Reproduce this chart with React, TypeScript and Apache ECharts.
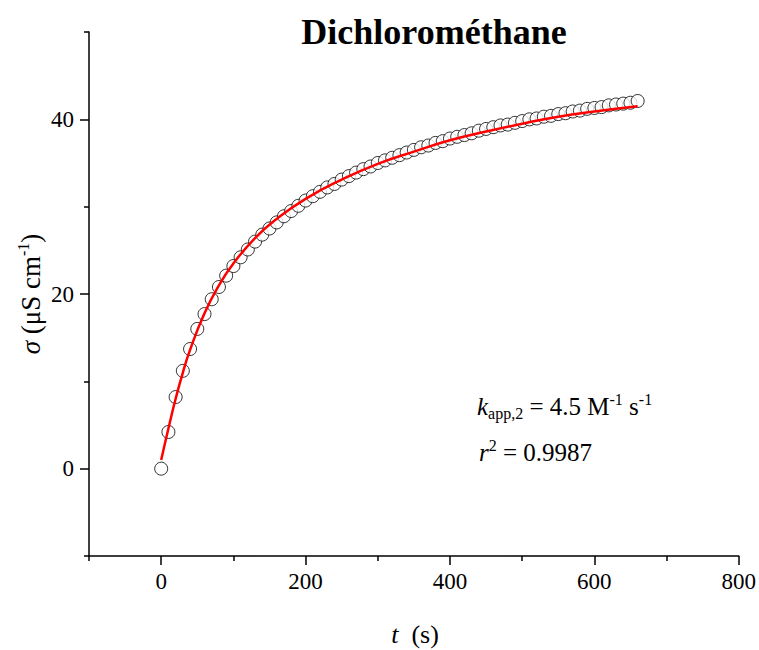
import React, { useEffect, useRef } from "react";
import * as echarts from "echarts";

// Measured data: time (s) and conductivity (µS cm-1)
const timeS: number[] = [
  0, 10, 20, 30, 40, 50, 60, 70, 80, 90, 100, 110, 120, 130, 140, 150, 160, 170, 180, 190,
  200, 210, 220, 230, 240, 250, 260, 270, 280, 290, 300, 310, 320, 330, 340, 350, 360, 370, 380, 390,
  400, 410, 420, 430, 440, 450, 460, 470, 480, 490, 500, 510, 520, 530, 540, 550, 560, 570, 580, 590,
  600, 610, 620, 630, 640, 650, 660,
];
const sigma: number[] = [
  0.0, 4.2, 8.2, 11.2, 13.7, 16.0, 17.7, 19.4, 20.8, 22.1, 23.2, 24.2, 25.1, 26.0, 26.8, 27.5, 28.2, 28.9, 29.5, 30.1,
  30.7, 31.2, 31.7, 32.2, 32.6, 33.1, 33.5, 33.9, 34.3, 34.6, 35.0, 35.3, 35.6, 35.9, 36.2, 36.5, 36.8, 37.0, 37.3, 37.5,
  37.8, 38.0, 38.2, 38.4, 38.7, 38.9, 39.1, 39.3, 39.4, 39.6, 39.8, 40.0, 40.1, 40.3, 40.4, 40.6, 40.7, 40.9, 41.0, 41.2,
  41.3, 41.4, 41.6, 41.7, 41.8, 41.9, 42.1,
];

// Fitted curve (red)
const fitTime: number[] = [0, 10, 20, 30, 40, 60, 80, 100, 130, 160, 200, 250, 300, 350, 400, 450, 500, 550, 600, 660];
const fitSigma: number[] = [1.0, 4.6, 8.0, 11.0, 13.6, 17.8, 21.0, 23.5, 26.4, 28.6, 30.9, 33.1, 34.9, 36.3, 37.6, 38.6, 39.5, 40.3, 40.9, 41.5];

const xMajorTicks: number[] = [0, 200, 400, 600, 800];
const xMinorTicks: number[] = [-100, 100, 300, 500, 700];
const yMajorTicks: number[] = [0, 20, 40];
const yMinorTicks: number[] = [-10, 10, 30, 50];

const FONT = "'Liberation Serif', 'DejaVu Serif', serif";

export default function App() {
  const ref = useRef<HTMLDivElement>(null);

  useEffect(() => {
    if (!ref.current) return;
    const chart = echarts.init(ref.current, undefined, { renderer: "svg" });

    const axisLine = { show: true, onZero: false, lineStyle: { color: "#000", width: 1.5 } };
    const tickStyle = { color: "#000", width: 1.5 };

    const option: echarts.EChartsOption = {
      animation: false,
      backgroundColor: "#fff",
      grid: { left: 89, right: 19, top: 32, bottom: 94, containLabel: false },
      xAxis: [
        {
          type: "value",
          min: -100,
          max: 800,
          position: "bottom",
          axisLine,
          splitLine: { show: false },
          axisTick: { show: true, inside: false, length: 9, customValues: xMajorTicks, lineStyle: tickStyle },
          axisLabel: { show: true, customValues: xMajorTicks, margin: 14, color: "#000", fontFamily: FONT, fontSize: 23 },
        },
        {
          type: "value",
          min: -100,
          max: 800,
          position: "bottom",
          axisLine: { show: false, onZero: false },
          splitLine: { show: false },
          axisTick: { show: true, inside: false, length: 5, customValues: xMinorTicks, lineStyle: tickStyle },
          axisLabel: { show: false },
        },
      ],
      yAxis: [
        {
          type: "value",
          min: -10,
          max: 50,
          position: "left",
          axisLine,
          splitLine: { show: false },
          axisTick: { show: true, inside: false, length: 9, customValues: yMajorTicks, lineStyle: tickStyle },
          axisLabel: { show: true, customValues: yMajorTicks, margin: 15, color: "#000", fontFamily: FONT, fontSize: 23 },
        },
        {
          type: "value",
          min: -10,
          max: 50,
          position: "left",
          axisLine: { show: false, onZero: false },
          splitLine: { show: false },
          axisTick: { show: true, inside: false, length: 5, customValues: yMinorTicks, lineStyle: tickStyle },
          axisLabel: { show: false },
        },
      ],
      series: [
        {
          type: "scatter",
          xAxisIndex: 0,
          yAxisIndex: 0,
          symbol: "circle",
          symbolSize: 13,
          itemStyle: { color: "#fff", borderColor: "#000", borderWidth: 1 },
          data: timeS.map((t, i) => [t, sigma[i]]),
          z: 2,
        },
        {
          type: "line",
          xAxisIndex: 0,
          yAxisIndex: 0,
          smooth: true,
          showSymbol: false,
          symbol: "none",
          lineStyle: { color: "#ff0000", width: 2.5 },
          data: fitTime.map((t, i) => [t, fitSigma[i]]),
          z: 3,
        },
      ],
      graphic: [
        {
          type: "text",
          x: 434,
          y: 32,
          style: {
            text: "Dichlorométhane",
            fontFamily: FONT,
            fontWeight: "bold",
            fontSize: 36,
            fill: "#000",
            align: "center",
            verticalAlign: "middle",
          },
        },
        {
          type: "text",
          x: 415,
          y: 634,
          style: {
            text: "{i|t}{n|  (s)}",
            align: "center",
            verticalAlign: "middle",
            rich: {
              i: { fontFamily: FONT, fontStyle: "italic", fontSize: 26, fill: "#000" },
              n: { fontFamily: FONT, fontSize: 26, fill: "#000" },
            },
          } as any,
        },
        {
          type: "text",
          x: 31,
          y: 294,
          rotation: Math.PI / 2,
          style: {
            text: "{i|σ}{n| (μS cm}{sup|-1}{n|)}",
            align: "center",
            verticalAlign: "middle",
            rich: {
              i: { fontFamily: FONT, fontStyle: "italic", fontSize: 27, fill: "#000", lineHeight: 32 },
              n: { fontFamily: FONT, fontSize: 27, fill: "#000", lineHeight: 32 },
              sup: { fontFamily: FONT, fontSize: 16, fill: "#000", verticalAlign: "top", lineHeight: 16 },
            },
          } as any,
        },
        {
          type: "text",
          x: 477,
          y: 391,
          style: {
            text: "{i|k}{sub|app,2}{n| = 4.5 M}{sup|-1}{n| s}{sup|-1}",
            rich: {
              i: { fontFamily: FONT, fontStyle: "italic", fontSize: 25, fill: "#000", lineHeight: 30 },
              n: { fontFamily: FONT, fontSize: 25, fill: "#000", lineHeight: 30 },
              sub: { fontFamily: FONT, fontSize: 16, fill: "#000", verticalAlign: "bottom", lineHeight: 16 },
              sup: { fontFamily: FONT, fontSize: 16, fill: "#000", verticalAlign: "top", lineHeight: 16 },
            },
          } as any,
        },
        {
          type: "text",
          x: 479,
          y: 437,
          style: {
            text: "{i|r}{sup|2}{n| = 0.9987}",
            rich: {
              i: { fontFamily: FONT, fontStyle: "italic", fontSize: 25, fill: "#000", lineHeight: 30 },
              n: { fontFamily: FONT, fontSize: 25, fill: "#000", lineHeight: 30 },
              sup: { fontFamily: FONT, fontSize: 16, fill: "#000", verticalAlign: "top", lineHeight: 16 },
            },
          } as any,
        },
      ],
    };

    chart.setOption(option);
    return () => chart.dispose();
  }, []);

  return (
    <div
      ref={ref}
      style={{ position: "absolute", left: 0, top: 0, width: 759, height: 650, background: "#fff" }}
    />
  );
}
